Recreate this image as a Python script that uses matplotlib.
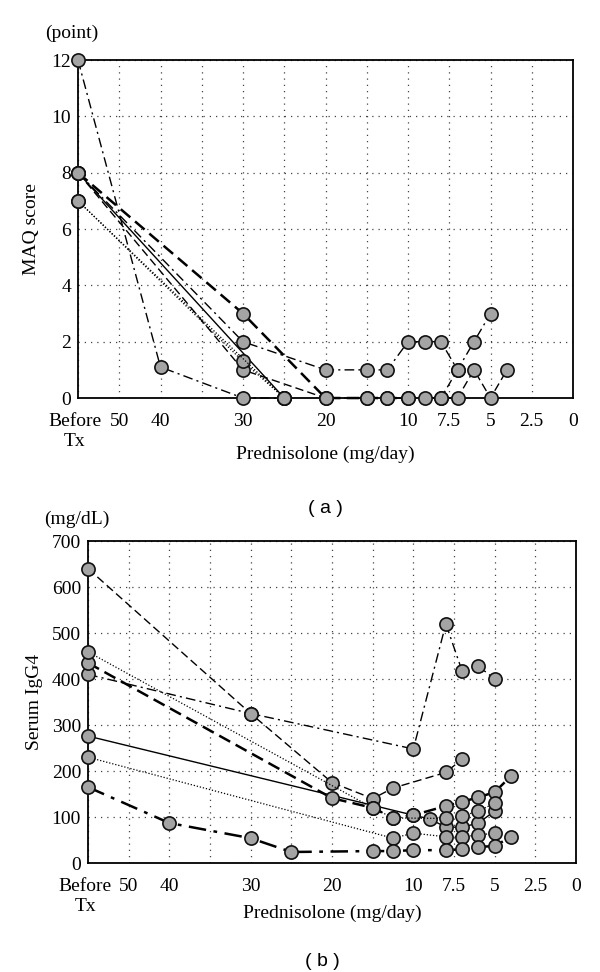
import numpy as np
import matplotlib
matplotlib.use("Agg")
import matplotlib.pyplot as plt
from matplotlib.transforms import ScaledTranslation

plt.rcParams['font.family'] = ['Liberation Serif', 'DejaVu Serif']

# x axis is a bent dose scale: "Before Tx" is stored as dose 60
BEFORE = 60
dose_breaks = [0, 2.5, 5, 7.5, 10, 20, 30, 40, 50, 60]
pos_breaks = [0, 1, 2, 3, 4, 6, 8, 10, 11, 12]

def fwd(d):
    return np.interp(d, dose_breaks, pos_breaks)

def inv(p):
    return np.interp(p, pos_breaks, dose_breaks)

tick_doses = [60, 50, 40, 30, 20, 10, 7.5, 5, 2.5, 0]
tick_labels = ["Before\nTx", "50", "40", "30", "20", "10", "7.5", "5", "2.5", "0"]
minor_doses = [35, 25, 15]

# ---- panel (a): MAQ score ----
a1_x = [BEFORE, 40, 30, 25]
a1_y = [12, 1.1, 0, 0]
a2_x = [BEFORE, 30, 20, 15, 12.5, 10]
a2_y = [8, 3, 0, 0, 0, 0]
a3_x = [BEFORE, 30, 20, 15, 12.5, 10, 9, 8, 7, 6, 5]
a3_y = [8, 2, 1, 1, 1, 2, 2, 2, 1, 2, 3]
a4_x = [BEFORE, 30, 20, 15, 12.5, 10, 9, 8, 7, 6, 5, 4]
a4_y = [8, 1, 0, 0, 0, 0, 0, 0, 0, 1, 0, 1]
a5_x = [BEFORE, 25]
a5_y = [8, 0]
a6_x = [BEFORE, 30, 25]
a6_y = [7, 1.3, 0]
a7_x = [BEFORE, 25]
a7_y = [7, 0]
a8_x = [8, 7]
a8_y = [0, 1]

# ---- panel (b): serum IgG4 ----
b1_x = [BEFORE, 30, 20, 15, 12.5, 8, 7]
b1_y = [640, 325, 175, 140, 163, 197, 226]
b2_x = [BEFORE, 30, 10, 8, 7, 6, 5]
b2_y = [410, 325, 248, 520, 417, 428, 400]
b3_x = [BEFORE, 10, 9, 8, 7, 6, 5]
b3_y = [276, 104, 96, 78, 78, 87, 113]
b4_x = [BEFORE, 20, 15, 12.5, 10, 8, 7, 6, 5, 4]
b4_y = [435, 141, 120, 98, 104, 124, 133, 143, 154, 189]
b5_x = [BEFORE, 15, 12.5, 8, 7, 6, 5]
b5_y = [459, 120, 98, 97, 102, 113, 130]
b6_x = [BEFORE, 12.5, 10, 8, 7, 6, 5]
b6_y = [230, 54, 65, 57, 57, 61, 65]
b7_x = [BEFORE, 40, 30, 25, 15, 12.5, 10, 8, 7, 6, 5, 4]
b7_y = [165, 87, 54, 24, 26, 26, 28, 28, 30, 35, 37, 57]

thin_dashdot = dict(ls=(0, (7, 3, 1.5, 3)), lw=1.0)
bold_dashdot = dict(ls=(0, (7, 3, 1.5, 3)), lw=1.8)
thin_dash = dict(ls=(0, (6, 3)), lw=1.0)
bold_dash = dict(ls=(0, (5, 2.5)), lw=1.8)
solid = dict(ls='-', lw=1.0)
dotted = dict(ls=(0, (1, 1.5)), lw=0.9)

mk = dict(marker='o', ms=9.5, mfc='#a4a4a4', mec='#111111', mew=1.2, color='black', clip_on=False)
FS = 14

fig = plt.figure(figsize=(6, 9.72), dpi=100)

def setup(ax, ymax, ystep, xlabelpad):
    ax.set_xscale('function', functions=(fwd, inv))
    ax.set_xlim(BEFORE, 0)
    ax.set_ylim(0, ymax)
    ax.set_xticks(tick_doses)
    ax.set_xticklabels(tick_labels, linespacing=1.25)
    ax.set_xticks(minor_doses, minor=True)
    ax.set_yticks(np.arange(0, ymax + 1, ystep))
    ax.grid(True, which='both', ls=(0, (1, 4)), lw=0.9, color='#444444')
    ax.tick_params(which='both', length=0, labelsize=FS, pad=5)
    ax.tick_params(axis='x', which='both', pad=10.5)
    # nudge "Before Tx" a little left so it clears the "50"
    first = ax.get_xticklabels()[0]
    first.set_transform(first.get_transform() + ScaledTranslation(-0.03, 0, fig.dpi_scale_trans))
    for s in ax.spines.values():
        s.set_linewidth(1.3)
        s.set_zorder(5)
    ax.set_xlabel("Prednisolone (mg/day)", fontsize=FS, labelpad=xlabelpad)

ax1 = fig.add_axes([0.13, 0.5905, 0.825, 0.3477])
setup(ax1, 12, 2, -3)
for x, y, st in [(a1_x, a1_y, thin_dashdot), (a2_x, a2_y, bold_dash), (a3_x, a3_y, thin_dashdot),
                 (a4_x, a4_y, thin_dash), (a5_x, a5_y, solid), (a6_x, a6_y, dotted),
                 (a7_x, a7_y, dotted), (a8_x, a8_y, thin_dash)]:
    ax1.plot(x, y, zorder=6, **st, **mk)
ax1.set_ylabel("MAQ score", fontsize=FS, labelpad=8)
ax1.text(-0.012, 1.08, "(point)", transform=ax1.transAxes, ha='center', va='center', fontsize=FS)
fig.text(0.542, 0.477, "( a )", ha='center', va='center', fontsize=14, family='Liberation Sans')

ax2 = fig.add_axes([0.1467, 0.1121, 0.8133, 0.3313])
setup(ax2, 700, 100, -7)
for x, y, st in [(b1_x, b1_y, thin_dash), (b2_x, b2_y, thin_dashdot), (b3_x, b3_y, solid),
                 (b4_x, b4_y, bold_dash), (b5_x, b5_y, dotted), (b6_x, b6_y, dotted),
                 (b7_x, b7_y, bold_dashdot)]:
    ax2.plot(x, y, zorder=6, **st, **mk)
ax2.set_ylabel("Serum IgG4", fontsize=FS, labelpad=6)
ax2.text(-0.022, 1.068, "(mg/dL)", transform=ax2.transAxes, ha='center', va='center', fontsize=FS)
fig.text(0.537, 0.0105, "( b )", ha='center', va='center', fontsize=14, family='Liberation Sans')

fig.savefig("out.png", dpi=100)
